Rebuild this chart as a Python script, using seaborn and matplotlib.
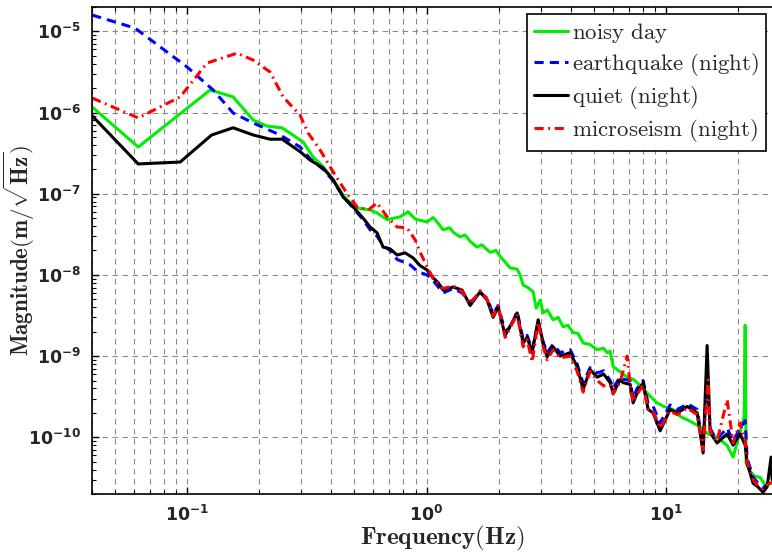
import numpy as np
import pandas as pd
import matplotlib
matplotlib.use('Agg')
import matplotlib.pyplot as plt
import matplotlib.ticker as mticker
import seaborn as sns

# noisy day
green_f = [0.0401, 0.0624, 0.1247, 0.1555, 0.1886, 0.2158, 0.2492, 0.2963, 0.3051, 0.3358,
           0.3698, 0.4072, 0.4482, 0.4658, 0.5129, 0.5811, 0.6217, 0.6843, 0.7757, 0.8378,
           0.8962, 0.9404, 1.006, 1.066, 1.120, 1.173, 1.250, 1.300, 1.382, 1.450,
           1.521, 1.627, 1.700, 1.845, 1.950, 2.030, 2.235, 2.391, 2.460, 2.534,
           2.650, 2.790, 2.871, 2.984, 3.071, 3.200, 3.381, 3.550, 3.723, 3.900,
           4.100, 4.300, 4.512, 4.800, 5.164, 5.500, 5.685, 5.850, 6.024, 6.400,
           6.892, 7.300, 7.587, 8.000, 8.354, 8.800, 9.198, 9.800, 10.73, 11.5,
           12.5, 13.91, 15.0, 16.38, 18.0, 19.11, 20.5, 21.25, 21.46, 21.66,
           22.5, 23.5, 24.78, 26.0, 27.81]
green_v = [1.17e-6, 3.77e-7, 1.90e-6, 1.56e-6, 8.1e-7, 6.8e-7, 6.5e-7, 4.6e-7, 4.35e-7, 2.84e-7,
           2.15e-7, 1.5e-7, 9.6e-8, 8.4e-8, 6.7e-8, 6.3e-8, 5.8e-8, 4.8e-8, 5.2e-8, 6.0e-8,
           4.9e-8, 4.7e-8, 4.5e-8, 5.1e-8, 4.3e-8, 3.6e-8, 3.8e-8, 3.3e-8, 2.95e-8, 3.1e-8,
           2.6e-8, 2.2e-8, 2.35e-8, 1.9e-8, 2.0e-8, 1.7e-8, 1.22e-8, 1.18e-8, 1.0e-8, 7.5e-9,
           7.0e-9, 6.2e-9, 3.9e-9, 4.9e-9, 3.4e-9, 3.7e-9, 2.8e-9, 3.0e-9, 2.3e-9, 2.4e-9,
           1.95e-9, 1.9e-9, 1.45e-9, 1.4e-9, 1.2e-9, 1.25e-9, 1.1e-9, 1.15e-9, 7.4e-10, 6.5e-10,
           5.5e-10, 5.2e-10, 4.7e-10, 4.0e-10, 3.5e-10, 3.0e-10, 2.65e-10, 2.4e-10, 2.2e-10, 1.8e-10,
           1.6e-10, 1.35e-10, 1.1e-10, 1.0e-10, 8e-11, 5.7e-11, 1.2e-10, 1.8e-10, 2.4e-9, 4.8e-11,
           3.8e-11, 3.3e-11, 3.2e-11, 2.6e-11, 2.7e-11]

# earthquake (night)
blue_f = [0.0401, 0.0605, 0.100, 0.1283, 0.1555, 0.1886, 0.2444, 0.2963, 0.3263, 0.3698,
          0.4072, 0.4482, 0.4935, 0.5434, 0.5811, 0.6217, 0.6585, 0.7043, 0.7534, 0.7984,
          0.8540, 0.9224, 1.006, 1.066, 1.173, 1.292, 1.409, 1.521, 1.675, 1.792,
          1.898, 1.992, 2.131, 2.279, 2.391, 2.534, 2.633, 2.763, 2.927, 3.071,
          3.192, 3.381, 3.617, 3.983, 4.261, 4.512, 4.828, 5.164, 5.500, 5.852,
          6.024, 6.443, 6.631, 7.094, 7.301, 7.587, 8.038, 8.435, 8.851, 9.467,
          10.42, 11.15, 11.81, 12.27, 13.52, 14.32, 14.88, 15.31, 15.77, 16.38,
          18.04, 19.11, 20.44, 21.46, 21.87, 23.17, 24.08, 25.50, 26.50, 27.81]
blue_v = [1.59e-5, 1.10e-5, 3.64e-6, 1.90e-6, 9.9e-7, 7.45e-7, 5.3e-7, 3.77e-7, 2.7e-7, 2.0e-7,
          1.45e-7, 9.3e-8, 6.7e-8, 4.8e-8, 3.6e-8, 3.0e-8, 2.3e-8, 2.0e-8, 1.55e-8, 1.45e-8,
          1.33e-8, 1.09e-8, 1.0e-8, 8.5e-9, 6.0e-9, 6.8e-9, 6.0e-9, 4.6e-9, 6.0e-9, 5.2e-9,
          3.3e-9, 4.2e-9, 2.0e-9, 2.4e-9, 3.6e-9, 1.6e-9, 1.8e-9, 1.2e-9, 2.6e-9, 1.5e-9,
          1.1e-9, 1.4e-9, 1.1e-9, 1.2e-9, 8.0e-10, 4.6e-10, 7.2e-10, 6.2e-10, 6.6e-10, 5.0e-10,
          4.0e-10, 5.6e-10, 5.2e-10, 5.0e-10, 3.0e-10, 4.0e-10, 5.0e-10, 2.6e-10, 2.4e-10, 1.5e-10,
          2.5e-10, 2.2e-10, 2.4e-10, 2.6e-10, 2.2e-10, 7.5e-11, 5.5e-10, 1.3e-10, 1.1e-10, 9.5e-11,
          1.3e-10, 9.0e-11, 1.3e-10, 1.6e-10, 5.5e-11, 3.2e-11, 2.8e-11, 2.4e-11, 2.6e-11, 3.2e-11]

# quiet (night)
black_f = [0.0401, 0.0624, 0.0934, 0.1265, 0.1555, 0.1886, 0.222, 0.2492, 0.2963, 0.3263,
           0.3698, 0.4072, 0.4482, 0.4935, 0.5434, 0.5811, 0.6217, 0.6585, 0.7043, 0.7534,
           0.8141, 0.8791, 0.9404, 1.006, 1.066, 1.120, 1.173, 1.292, 1.409, 1.521,
           1.675, 1.792, 1.898, 1.992, 2.131, 2.279, 2.391, 2.534, 2.633, 2.763,
           2.927, 3.071, 3.192, 3.381, 3.617, 3.983, 4.261, 4.512, 4.828, 5.164,
           5.500, 5.852, 6.024, 6.443, 6.631, 7.094, 7.301, 7.587, 8.038, 8.435,
           8.851, 9.467, 10.42, 11.15, 11.81, 12.27, 13.52, 14.32, 14.88, 15.31,
           15.77, 16.38, 18.04, 19.11, 20.44, 21.46, 21.87, 23.17, 24.08, 25.50,
           26.50, 27.54, 27.81]
black_v = [9.1e-7, 2.33e-7, 2.46e-7, 5.3e-7, 6.5e-7, 5.3e-7, 4.7e-7, 4.7e-7, 3.3e-7, 2.6e-7,
           2.08e-7, 1.48e-7, 9.1e-8, 6.9e-8, 5.0e-8, 3.9e-8, 3.3e-8, 2.2e-8, 2.1e-8, 1.76e-8,
           1.87e-8, 1.62e-8, 1.3e-8, 1.15e-8, 9.2e-9, 8.0e-9, 6.5e-9, 7.1e-9, 6.5e-9, 4.2e-9,
           6.2e-9, 4.9e-9, 3.0e-9, 4.0e-9, 1.8e-9, 2.6e-9, 3.4e-9, 1.45e-9, 1.7e-9, 1.1e-9,
           2.8e-9, 1.45e-9, 9.8e-10, 1.3e-9, 1.0e-9, 1.1e-9, 7.4e-10, 3.9e-10, 6.8e-10, 5.5e-10,
           6.0e-10, 4.7e-10, 3.5e-10, 5.1e-10, 4.7e-10, 4.5e-10, 2.65e-10, 3.5e-10, 4.7e-10, 2.2e-10,
           2.0e-10, 1.2e-10, 2.2e-10, 2.0e-10, 2.2e-10, 2.4e-10, 2.0e-10, 6.4e-11, 1.35e-9, 1.2e-10,
           1.0e-10, 8.5e-11, 1.1e-10, 8.0e-11, 1.1e-10, 8.0e-11, 4.8e-11, 2.7e-11, 2.5e-11, 2.1e-11,
           2.45e-11, 5.7e-11, 3.0e-11]

# microseism (night)
red_f = [0.0401, 0.0624, 0.0934, 0.121, 0.1616, 0.1886, 0.222, 0.2516, 0.2963, 0.3201,
         0.3592, 0.4072, 0.4658, 0.5129, 0.5702, 0.6217, 0.6843, 0.7534, 0.8297, 0.8962,
         0.9404, 1.006, 1.066, 1.173, 1.292, 1.409, 1.521, 1.675, 1.792, 1.898,
         1.992, 2.131, 2.279, 2.391, 2.534, 2.633, 2.763, 2.927, 3.071, 3.192,
         3.381, 3.617, 3.983, 4.261, 4.512, 4.828, 5.164, 5.500, 5.852, 6.024,
         6.443, 6.892, 7.094, 7.301, 7.587, 8.038, 8.435, 8.851, 9.467, 10.42,
         11.15, 11.81, 12.27, 13.52, 14.32, 15.02, 15.31, 15.77, 16.38, 18.04,
         19.11, 20.44, 21.46, 21.87, 23.17, 24.08, 25.50, 26.50, 27.81]
red_v = [1.51e-6, 8.6e-7, 1.56e-6, 4.08e-6, 5.4e-6, 4.44e-6, 3.16e-6, 1.56e-6, 9.3e-7, 5.6e-7,
         3.46e-7, 1.86e-7, 1.0e-7, 6.9e-8, 6.3e-8, 7.7e-8, 5.2e-8, 3.9e-8, 3.8e-8, 2.7e-8,
         1.9e-8, 1.26e-8, 9.0e-9, 6.8e-9, 7.3e-9, 6.3e-9, 4.4e-9, 6.4e-9, 5.0e-9, 3.1e-9,
         4.2e-9, 1.7e-9, 2.5e-9, 3.3e-9, 1.3e-9, 1.6e-9, 8.5e-10, 2.6e-9, 1.3e-9, 9.0e-10,
         1.2e-9, 9.5e-10, 1.0e-9, 6.5e-10, 3.6e-10, 6.5e-10, 5.0e-10, 4.3e-10, 4.4e-10, 3.4e-10,
         4.8e-10, 1.0e-9, 4.4e-10, 2.7e-10, 3.4e-10, 4.4e-10, 2.2e-10, 2.1e-10, 1.3e-10, 2.1e-10,
         1.9e-10, 2.1e-10, 2.3e-10, 1.9e-10, 7.0e-11, 5.1e-10, 1.2e-10, 1.0e-10, 9.0e-11, 2.9e-10,
         8.5e-11, 1.5e-10, 9.0e-11, 5.0e-11, 3.0e-11, 2.6e-11, 2.3e-11, 2.6e-11, 2.8e-11]

labels = ['noisy day', 'earthquake (night)', 'quiet (night)', 'microseism (night)']

sns.set_theme(style='ticks')
plt.rcParams['font.family'] = ['DejaVu Sans']
plt.rcParams['mathtext.fontset'] = 'cm'

fig = plt.figure(figsize=(7.72, 5.54), dpi=100)
ax = fig.add_axes([92 / 772, 60 / 554, 701 / 772, 487 / 554])

series = [
    (green_f, green_v, '#00ee00', '-'),
    (blue_f, blue_v, '#0000ff', (0, (3, 2))),
    (black_f, black_v, 'black', '-'),
    (red_f, red_v, '#ff0000', (0, (3, 1.5, 0.6, 1.5))),
]
for (f, v, c, ls), lab in zip(series, labels):
    df = pd.DataFrame({'f': f, 'v': v})
    sns.lineplot(data=df, x='f', y='v', ax=ax, color=c, linestyle=ls,
                 linewidth=2.2, estimator=None, sort=False,
                 label=r'$\mathrm{' + lab.replace(' ', r'\ ') + '}$')

ax.set_xscale('log')
ax.set_yscale('log')
ax.set_xlim(0.04, 34)
ax.set_ylim(2e-11, 2e-5)

ax.yaxis.set_major_locator(mticker.LogLocator(base=10, numticks=20))
ax.yaxis.set_minor_locator(mticker.LogLocator(base=10, subs=np.arange(2, 10), numticks=20))
ax.xaxis.set_minor_locator(mticker.LogLocator(base=10, subs=np.arange(2, 10), numticks=20))
ax.yaxis.set_minor_formatter(mticker.NullFormatter())
ax.xaxis.set_minor_formatter(mticker.NullFormatter())

ax.grid(True, which='major', color='#8a8a8a', linestyle=(0, (5, 4)), linewidth=0.8)
ax.grid(True, which='minor', axis='x', color='#8a8a8a', linestyle=(0, (5, 4)), linewidth=0.8)

ax.tick_params(which='both', direction='in', top=True, right=True, color='black')
ax.tick_params(which='major', length=5, width=1)
ax.tick_params(which='minor', length=3, width=0.8)
ax.tick_params(labelsize=12.5, pad=8)
for t in ax.get_xticklabels() + ax.get_yticklabels():
    t.set_fontweight('bold')
for s in ax.spines.values():
    s.set_color('black')
    s.set_linewidth(1.2)

ax.set_xlabel(r'$\mathbf{Frequency(Hz)}$', fontsize=18)
ax.xaxis.set_label_coords(0.5, -0.062)
ax.set_ylabel(r'$\mathbf{Magnitude(m/}\sqrt{\mathbf{Hz}}\mathbf{)}$', fontsize=16.5)
ax.yaxis.set_label_coords(-0.078, 0.5)

leg = ax.legend(loc='upper left', bbox_to_anchor=(527 / 772, 1 - 14 / 554),
                bbox_transform=fig.transFigure, fontsize=16.5, frameon=True,
                fancybox=False, framealpha=1, edgecolor='black', borderpad=0.3,
                labelspacing=0.26, handlelength=1.5, handletextpad=0.15,
                borderaxespad=0)
leg.get_frame().set_linewidth(1.2)

fig.savefig('out.png', dpi=100)
